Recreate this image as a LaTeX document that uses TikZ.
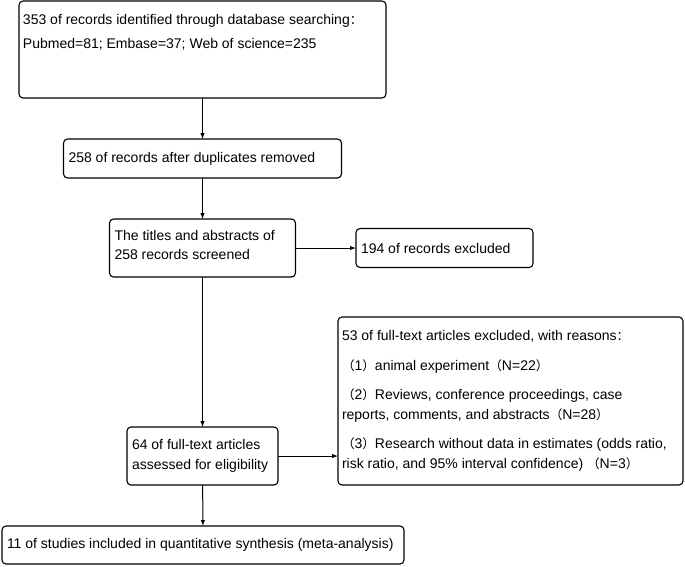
\documentclass[tikz,border=0pt]{standalone}
\usepackage{fontspec}
\setmainfont{Liberation Sans}
\newfontfamily\cjk[Scale=0.9]{Noto Sans CJK SC}
\newcommand{\fw}[1]{{\cjk #1}}
\usepackage{xcolor}
\usetikzlibrary{arrows.meta}
\tikzstyle{flowbox} = [draw=black, fill=white, line width=1.1pt,
rectangle, rounded corners=4pt, inner sep=0pt, outer sep=0pt]
\tikzstyle{flowarrow} = [line width=1pt, -{Latex[length=6pt,width=4.5pt]}]

\begin{document}
\begin{tikzpicture}[x=1pt, y=-1pt, font=\fontsize{14pt}{19.5pt}\selectfont]
        \useasboundingbox (0,0) rectangle (685,566);
        \node [flowbox, minimum width=367pt, minimum height=97pt] (ident) at (202.5,49.5) {%
            \begin{minipage}[c][71pt][t]{359pt}\raggedright
                353 of records identified through database searching\fw{：}\\[4.5pt]
                Pubmed=81; Embase=37; Web of science=235
            \end{minipage}
        };
        \node [flowbox, minimum width=278pt, minimum height=39pt] (dedup) at (202.5,158.5) {%
            \begin{minipage}{268pt}\raggedright
                258 of records after duplicates removed
            \end{minipage}
        };
        \node [flowbox, minimum width=186pt, minimum height=58pt] (screen) at (202.5,248) {%
            \begin{minipage}{176pt}\raggedright
                The titles and abstracts of\\
                258 records screened\vspace{6pt}
            \end{minipage}
        };
        \node [flowbox, minimum width=177pt, minimum height=39pt] (excl1) at (444.5,248) {%
            \begin{minipage}{167pt}\raggedright
                194 of records excluded
            \end{minipage}
        };
        \node [flowbox, minimum width=345pt, minimum height=168pt] (excl2) at (510.5,401) {%
            \begin{minipage}{337pt}\raggedright
                53 of full-text articles excluded, with reasons\fw{：}\\[10pt]
                \fw{（}1\fw{）}animal experiment\fw{（}N=22\fw{）}\\[10pt]
                \fw{（}2\fw{）}Reviews, conference proceedings, case\\
                reports, comments, and abstracts\fw{（}N=28\fw{）}\\[10pt]
                \fw{（}3\fw{）}Research without data in estimates (odds ratio,\\
                risk ratio, and 95\% interval confidence) \fw{（}N=3\fw{）}
            \end{minipage}
        };
        \node [flowbox, minimum width=151pt, minimum height=58pt] (full) at (202.5,456) {%
            \begin{minipage}{141pt}\raggedright
                64 of full-text articles\\
                assessed for eligibility
            \end{minipage}
        };
        \node [flowbox, minimum width=402pt, minimum height=38pt] (incl) at (203,545) {%
            \begin{minipage}{392pt}\raggedright
                11 of studies included in quantitative synthesis (meta-analysis)
            \end{minipage}
        };
        \draw [flowarrow] (ident) -- (dedup);
        \draw [flowarrow] (dedup) -- (screen);
        \draw [flowarrow] (screen) -- (excl1);
        \draw [flowarrow] (screen) -- (full);
        \draw [flowarrow] (full.east) -- (full.east -| excl2.west);
        \draw [flowarrow] (full) -- (incl);
    \end{tikzpicture}
\end{document}
